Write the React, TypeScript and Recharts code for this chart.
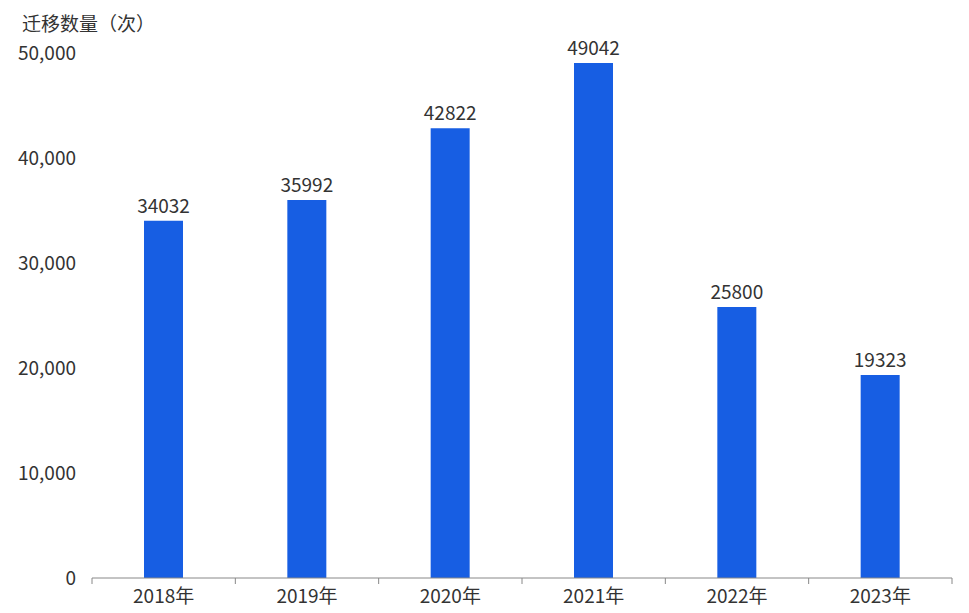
import React from "react";
import { BarChart, Bar, XAxis, YAxis, LabelList } from "recharts";

const categories = ["2018年", "2019年", "2020年", "2021年", "2022年", "2023年"];
const values = [34032, 35992, 42822, 49042, 25800, 19323];
const yTicks = [0, 10000, 20000, 30000, 40000, 50000];
const title = "迁移数量（次）";

const data = categories.map((c, i) => ({ name: c, value: values[i] }));

const FONT = "'Noto Sans CJK SC', 'Noto Sans', sans-serif";
const FS = 19;
const W = 969;
const H = 613;
const M = { top: 53, right: 17, bottom: 0, left: 0 };
const YW = 92;
const BAND = (W - M.right - YW) / categories.length;

const XTick = (props: any) => {
  const { x, y, payload, index } = props;
  const isLast = index === categories.length - 1;
  return (
    <g>
      <line x1={x - BAND / 2} x2={x - BAND / 2} y1={y - 8} y2={y - 2} stroke="#888" />
      {isLast && <line x1={x + BAND / 2} x2={x + BAND / 2} y1={y - 8} y2={y - 2} stroke="#888" />}
      <text x={x} y={y + 17} textAnchor="middle" fill="#333" fontSize={FS} fontFamily={FONT}>
        {payload.value}
      </text>
    </g>
  );
};

export default function App() {
  return (
    <div style={{ position: "absolute", left: 0, top: 0, width: W, height: H, background: "#fff" }}>
      <div
        style={{
          position: "absolute",
          left: 22,
          top: 9,
          fontSize: FS,
          color: "#333",
          fontFamily: FONT,
        }}
      >
        {title}
      </div>
      <BarChart width={W} height={H} data={data} margin={M}>
        <XAxis
          dataKey="name"
          axisLine={{ stroke: "#888" }}
          tickLine={false}
          tick={<XTick />}
          height={35}
          interval={0}
        />
        <YAxis
          width={YW}
          domain={[0, 50000]}
          ticks={yTicks}
          axisLine={false}
          tickLine={false}
          tickMargin={10}
          tickFormatter={(v: number) => v.toLocaleString("en-US")}
          tick={{ fill: "#333", fontSize: FS, fontFamily: FONT }}
        />
        <Bar dataKey="value" fill="#175ee3" barSize={39} isAnimationActive={false}>
          <LabelList
            dataKey="value"
            position="top"
            offset={8}
            fill="#333"
            fontSize={FS}
            fontFamily={FONT}
          />
        </Bar>
      </BarChart>
    </div>
  );
}
